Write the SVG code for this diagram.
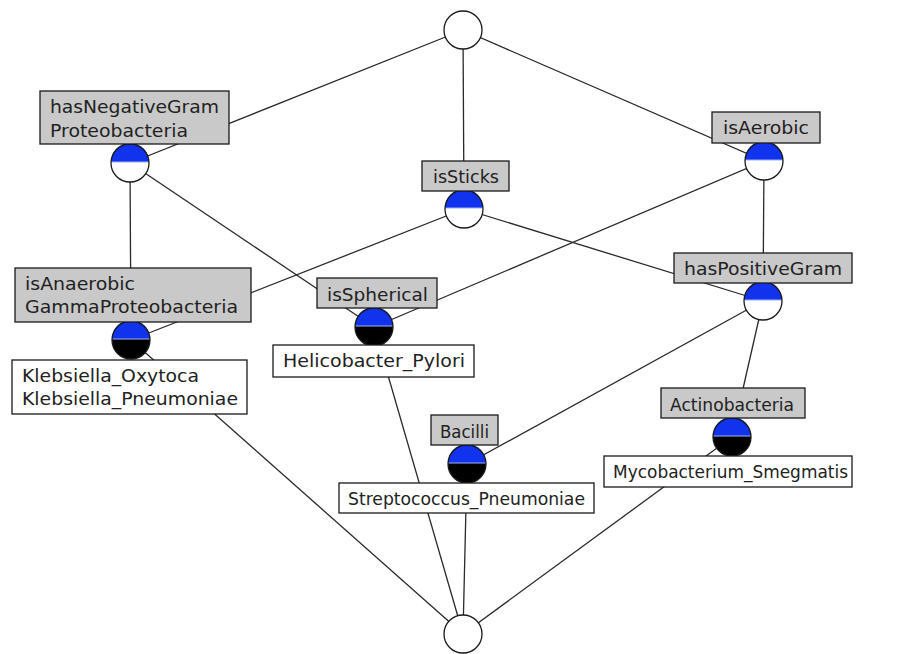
<svg xmlns="http://www.w3.org/2000/svg" xmlns:xlink="http://www.w3.org/1999/xlink" width="901" height="654" viewBox="0 0 901 654">
<style>
.edge{stroke:#2a2a2a;stroke-width:1.3;fill:none}
.attr{fill:#c9c9c9;stroke:#1a1a1a;stroke-width:1.3}
.obj{fill:#ffffff;stroke:#1a1a1a;stroke-width:1.3}
.lbl{font-family:"DejaVu Sans","Liberation Sans",sans-serif;font-size:17px;fill:#222}
.ring{fill:none;stroke:#1a1a1a;stroke-width:1.3}
.blue{fill:#1133ee}
.sep{stroke:#9fb2ff;stroke-width:1}
</style>
<defs>
<g id="cWhite">
<circle r="19" fill="#ffffff"/>
<path class="blue" d="M-19,-1 A19,19 0 0 1 19,-1 Z"/>
<line class="sep" x1="-18.9" y1="-1" x2="18.9" y2="-1"/>
<circle class="ring" r="19"/>
</g>
<g id="cBlack">
<circle r="19" fill="#000000"/>
<path class="blue" d="M-19,-1 A19,19 0 0 1 19,-1 Z"/>
<line class="sep" x1="-18.9" y1="-1" x2="18.9" y2="-1"/>
<circle class="ring" r="19"/>
</g>
</defs>
<rect width="901" height="654" fill="#ffffff"/>
<g id="connectors">
<line class="edge" x1="463" y1="30" x2="130" y2="163"/>
<line class="edge" x1="463" y1="30" x2="464" y2="209"/>
<line class="edge" x1="463" y1="30" x2="764" y2="161"/>
<line class="edge" x1="130" y1="163" x2="131" y2="340"/>
<line class="edge" x1="130" y1="163" x2="374" y2="327"/>
<line class="edge" x1="464" y1="209" x2="131" y2="340"/>
<line class="edge" x1="464" y1="209" x2="763" y2="301"/>
<line class="edge" x1="764" y1="161" x2="374" y2="327"/>
<line class="edge" x1="764" y1="161" x2="763" y2="301"/>
<line class="edge" x1="763" y1="301" x2="467" y2="464"/>
<line class="edge" x1="763" y1="301" x2="732" y2="437"/>
<line class="edge" x1="131" y1="340" x2="463" y2="634"/>
<line class="edge" x1="374" y1="327" x2="463" y2="634"/>
<line class="edge" x1="467" y1="464" x2="463" y2="634"/>
<line class="edge" x1="732" y1="437" x2="463" y2="634"/>
</g>
<g id="top">
<circle cx="463" cy="30" r="19" fill="#ffffff" stroke="#1a1a1a" stroke-width="1.3"/>
</g>
<g id="bottom">
<circle cx="463" cy="634" r="19" fill="#ffffff" stroke="#1a1a1a" stroke-width="1.3"/>
</g>
<g id="hasNegativeGram">
<use xlink:href="#cWhite" href="#cWhite" x="130" y="163"/>
<rect class="attr" x="40" y="91" width="189" height="53"/>
<text class="lbl" x="50" y="113" textLength="169" lengthAdjust="spacingAndGlyphs">hasNegativeGram</text>
<text class="lbl" x="50" y="137" textLength="138" lengthAdjust="spacingAndGlyphs">Proteobacteria</text>
</g>
<g id="isSticks">
<use xlink:href="#cWhite" href="#cWhite" x="464" y="209"/>
<rect class="attr" x="422" y="161" width="87" height="30"/>
<text class="lbl" x="433" y="183" textLength="66" lengthAdjust="spacingAndGlyphs">isSticks</text>
</g>
<g id="isAerobic">
<use xlink:href="#cWhite" href="#cWhite" x="764" y="161"/>
<rect class="attr" x="712" y="112" width="108" height="31"/>
<text class="lbl" x="723" y="134" textLength="86" lengthAdjust="spacingAndGlyphs">isAerobic</text>
</g>
<g id="hasPositiveGram">
<use xlink:href="#cWhite" href="#cWhite" x="763" y="301"/>
<rect class="attr" x="674" y="253" width="178" height="30"/>
<text class="lbl" x="684" y="275" textLength="158" lengthAdjust="spacingAndGlyphs">hasPositiveGram</text>
</g>
<g id="isAnaerobic">
<use xlink:href="#cBlack" href="#cBlack" x="131" y="340"/>
<rect class="attr" x="15" y="268" width="236" height="54"/>
<text class="lbl" x="25" y="290" textLength="110" lengthAdjust="spacingAndGlyphs">isAnaerobic</text>
<text class="lbl" x="25" y="313" textLength="213" lengthAdjust="spacingAndGlyphs">GammaProteobacteria</text>
<rect class="obj" x="12" y="360" width="235" height="54"/>
<text class="lbl" x="22" y="382" textLength="177" lengthAdjust="spacingAndGlyphs">Klebsiella_Oxytoca</text>
<text class="lbl" x="22" y="405" textLength="216" lengthAdjust="spacingAndGlyphs">Klebsiella_Pneumoniae</text>
</g>
<g id="isSpherical">
<use xlink:href="#cBlack" href="#cBlack" x="374" y="327"/>
<rect class="attr" x="317" y="278" width="120" height="30"/>
<text class="lbl" x="327" y="301" textLength="101" lengthAdjust="spacingAndGlyphs">isSpherical</text>
<rect class="obj" x="273" y="345" width="201" height="32"/>
<text class="lbl" x="283" y="367" textLength="182" lengthAdjust="spacingAndGlyphs">Helicobacter_Pylori</text>
</g>
<g id="Bacilli">
<use xlink:href="#cBlack" href="#cBlack" x="467" y="464"/>
<rect class="attr" x="431" y="415" width="67" height="30"/>
<text class="lbl" x="440" y="438" textLength="49" lengthAdjust="spacingAndGlyphs">Bacilli</text>
<rect class="obj" x="339" y="483" width="255" height="30"/>
<text class="lbl" x="348" y="505" textLength="237" lengthAdjust="spacingAndGlyphs">Streptococcus_Pneumoniae</text>
</g>
<g id="Actinobacteria">
<use xlink:href="#cBlack" href="#cBlack" x="732" y="437"/>
<rect class="attr" x="661" y="388" width="144" height="30"/>
<text class="lbl" x="670" y="411" textLength="124" lengthAdjust="spacingAndGlyphs">Actinobacteria</text>
<rect class="obj" x="604" y="456" width="248" height="31"/>
<text class="lbl" x="613" y="478" textLength="235" lengthAdjust="spacingAndGlyphs">Mycobacterium_Smegmatis</text>
</g>
</svg>
